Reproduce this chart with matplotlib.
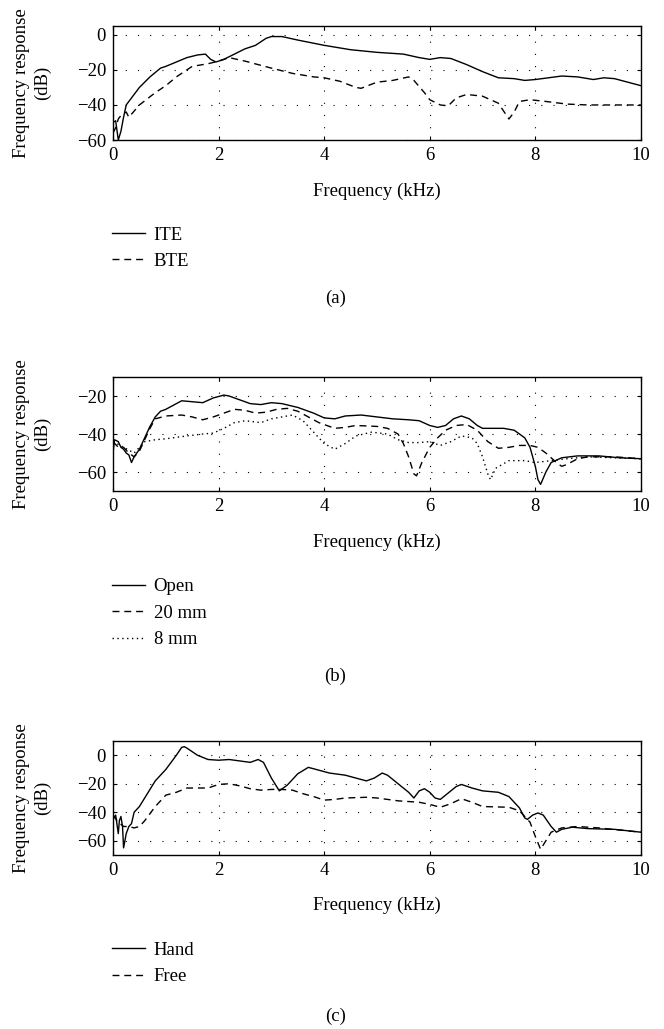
import matplotlib.pyplot as plt

plt.rcParams['font.family'] = ['Liberation Serif', 'DejaVu Serif']
plt.rcParams['font.size'] = 13.5
plt.rcParams['axes.unicode_minus'] = True

# (a) ITE / BTE
ite_f = [0.0, 0.05, 0.1, 0.15, 0.2, 0.25, 0.3, 0.5, 0.7, 0.9, 1.0, 1.2, 1.4, 1.6, 1.75, 1.85,
         1.95, 2.1, 2.3, 2.5, 2.7, 2.9, 3.0, 3.2, 3.5, 4.0, 4.5, 5.0, 5.5, 5.8, 6.0, 6.2,
         6.4, 6.7, 7.0, 7.3, 7.6, 7.8, 8.0, 8.5, 8.8, 9.0, 9.1, 9.3, 9.5, 10.0]
ite_db = [-50, -49, -60, -55, -47, -40, -38, -30, -24, -19, -18, -15.5, -13, -11.5, -11, -14,
          -15.5, -14, -11, -8, -6, -2, -1, -1, -3, -6, -8.5, -10, -11, -13, -14, -13,
          -13.5, -17, -21, -24.5, -25, -26, -25.5, -23.5, -24, -25, -25.5, -24.5, -25, -29]
bte_f = [0.0, 0.05, 0.1, 0.15, 0.25, 0.3, 0.5, 0.8, 1.0, 1.2, 1.5, 1.8, 2.0, 2.2, 2.5, 3.0,
         3.4, 3.8, 4.0, 4.3, 4.6, 4.7, 5.0, 5.3, 5.6, 5.7, 5.9, 6.0, 6.2, 6.35, 6.5, 6.7,
         7.0, 7.3, 7.5, 7.6, 7.7, 7.9, 8.2, 8.6, 9.0, 10.0]
bte_db = [-56, -53, -48, -46, -44, -47, -40, -33, -29, -24, -18, -16.5, -15, -13, -15, -19,
          -22, -24, -24.5, -26.5, -30, -30.5, -27, -26, -24, -26, -33, -37, -40, -40.5, -36, -34,
          -35, -39, -48, -44, -38, -37, -38, -39.5, -40, -40]

# (b) Open / 20 mm / 8 mm
open_f = [0.0, 0.03, 0.1, 0.15, 0.2, 0.25, 0.3, 0.35, 0.4, 0.5, 0.6, 0.7, 0.8, 0.9, 1.0, 1.2,
          1.3, 1.5, 1.7, 1.9, 2.1, 2.2, 2.4, 2.6, 2.8, 3.0, 3.2, 3.5, 3.8, 4.0, 4.2, 4.4,
          4.7, 5.0, 5.3, 5.6, 5.8, 6.0, 6.15, 6.3, 6.45, 6.6, 6.75, 6.9, 7.0, 7.2, 7.4, 7.6,
          7.8, 7.9, 8.0, 8.05, 8.1, 8.2, 8.3, 8.5, 8.8, 9.2, 9.6, 10.0]
open_db = [-50, -43, -44, -47, -48, -50, -51, -55, -52, -48, -42, -36, -31, -28, -27, -24,
           -22.5, -23, -23.5, -21, -19.5, -20, -22, -24, -24.5, -23.5, -24, -26, -29, -31.5, -32, -30.5,
           -30, -31, -32, -32.5, -33, -35.5, -36.5, -35.5, -32, -30.5, -32, -35.5, -37, -37, -37, -38,
           -42, -47, -57, -64, -66.5, -60, -55, -52.5, -51.5, -51.5, -52.5, -53]
mm20_f = [0.0, 0.1, 0.2, 0.3, 0.4, 0.5, 0.6, 0.7, 0.8, 1.0, 1.3, 1.5, 1.7, 1.9, 2.1, 2.3,
          2.5, 2.7, 2.9, 3.1, 3.3, 3.5, 3.7, 3.9, 4.2, 4.4, 4.6, 5.0, 5.2, 5.4, 5.5, 5.6,
          5.7, 5.75, 5.85, 6.0, 6.15, 6.3, 6.5, 6.7, 6.9, 7.1, 7.3, 7.5, 7.7, 7.9, 8.05, 8.2,
          8.4, 8.5, 8.6, 8.8, 9.0, 9.5, 10.0]
mm20_db = [-44, -47, -47, -50, -52, -49, -43, -37, -32, -30.5, -30, -31, -32.5, -31, -29, -27,
           -27.5, -29, -28.5, -27, -26.5, -28, -31, -34, -37, -36.5, -35.5, -36, -37, -40, -45, -52,
           -61, -62, -55, -47, -42, -38, -35.5, -35, -38, -44, -47.5, -47, -46, -46, -47, -50,
           -55, -57, -56, -53, -52, -52, -53]
mm8_f = [0.0, 0.2, 0.4, 0.5, 0.6, 0.8, 1.0, 1.4, 1.7, 1.9, 2.1, 2.3, 2.5, 2.8, 3.0, 3.2,
         3.4, 3.6, 3.8, 4.0, 4.2, 4.4, 4.6, 4.9, 5.2, 5.4, 5.6, 5.8, 6.0, 6.2, 6.4, 6.6,
         6.8, 6.9, 7.0, 7.1, 7.15, 7.25, 7.5, 7.8, 8.0, 8.3, 8.6, 9.0, 9.5, 10.0]
mm8_db = [-44, -47, -50, -47, -44, -43, -42.5, -41, -40, -39.5, -37, -34, -33, -34, -32, -31,
          -30, -33, -39, -45, -48, -45, -41, -39, -40, -43, -44.5, -44.5, -44, -46, -44, -41,
          -42, -45, -52, -61, -64, -58, -54, -54, -55, -54, -53, -52, -52.5, -53]

# (c) Hand / Free
hand_f = [0.0, 0.05, 0.1, 0.12, 0.15, 0.18, 0.2, 0.25, 0.3, 0.35, 0.4, 0.5, 0.6, 0.7, 0.8, 1.0,
          1.1, 1.2, 1.3, 1.35, 1.4, 1.6, 1.8, 2.0, 2.2, 2.4, 2.6, 2.75, 2.85, 3.0, 3.15, 3.3,
          3.5, 3.7, 3.9, 4.1, 4.4, 4.6, 4.8, 4.95, 5.1, 5.2, 5.4, 5.6, 5.7, 5.8, 5.9, 6.0,
          6.1, 6.2, 6.3, 6.5, 6.6, 6.8, 7.0, 7.3, 7.5, 7.7, 7.8, 7.85, 7.95, 8.05, 8.15, 8.3,
          8.4, 8.5, 8.7, 9.0, 9.5, 10.0]
hand_db = [-45, -42, -55, -46, -43, -50, -65, -55, -50, -48, -40, -36, -30, -24, -18, -10,
           -5, 0, 5.5, 6, 5, 0, -3, -3.5, -3, -4, -5, -3, -5, -16, -25, -21,
           -13, -8.5, -10.5, -12.5, -14, -16, -18, -16, -12.5, -14, -20, -26, -30, -25, -23.5, -26,
           -30, -31, -28, -22, -20.5, -23, -25, -26, -29, -37, -44, -45, -42, -40.5, -42, -50,
           -54, -52, -50.5, -51.5, -52, -54]
free_f = [0.0, 0.1, 0.2, 0.3, 0.4, 0.5, 0.6, 0.8, 1.0, 1.2, 1.4, 1.6, 1.8, 2.0, 2.2, 2.4,
          2.6, 2.8, 3.0, 3.2, 3.4, 3.6, 3.8, 4.0, 4.2, 4.4, 4.8, 5.0, 5.4, 5.8, 6.0, 6.2,
          6.4, 6.6, 6.8, 7.0, 7.5, 7.7, 7.9, 8.0, 8.1, 8.2, 8.3, 8.5, 8.8, 9.2, 10.0]
free_db = [-42, -47, -50, -50, -51, -50, -46, -36, -28, -26, -23, -23, -23, -20.5, -20, -21.5,
           -23.5, -24.5, -24, -24, -24.5, -27, -29, -31.5, -31, -30, -29.5, -30, -32, -33, -34.5, -36.5,
           -34, -30.5, -33, -36, -36.5, -39, -47, -57, -66, -60, -54, -51, -50, -51, -54]

x_ticks = [0, 2, 4, 6, 8, 10]
dashed = (0, (5, 3.5))
dotted = (0, (1, 2.5))

fig = plt.figure(figsize=(6.64, 10.29), dpi=100)

panels = [
    # axes rect, ylim, yticks, series, legend top, tag y
    ([0.1702, 0.8639, 0.795, 0.1108], (-60, 5), [0, -20, -40, -60],
     [(ite_f, ite_db, '-', 'ITE'), (bte_f, bte_db, dashed, 'BTE')], 0.780, 0.710, '(a)'),
    ([0.1702, 0.5228, 0.795, 0.1108], (-70, -10), [-20, -40, -60],
     [(open_f, open_db, '-', 'Open'), (mm20_f, mm20_db, dashed, '20 mm'),
      (mm8_f, mm8_db, dotted, '8 mm')], 0.438, 0.343, '(b)'),
    ([0.1702, 0.1691, 0.795, 0.1108], (-70, 10), [0, -20, -40, -60],
     [(hand_f, hand_db, '-', 'Hand'), (free_f, free_db, dashed, 'Free')], 0.085, 0.012, '(c)'),
]

for rect, ylim, yticks, series, leg_top, tag_y, tag in panels:
    ax = fig.add_axes(rect)
    for f, db, ls, lab in series:
        ax.plot(f, db, color='black', linestyle=ls, linewidth=1.0, label=lab)
    ax.set_xlim(0, 10)
    ax.set_ylim(*ylim)
    ax.set_xticks(x_ticks)
    ax.set_yticks(yticks)
    ax.grid(True, color='black', linestyle=(0, (1, 10)), linewidth=0.8)
    ax.tick_params(direction='in', top=True, right=True, length=3, width=0.8, pad=5)
    for sp in ax.spines.values():
        sp.set_linewidth(1.0)
    ax.set_xlabel('Frequency (kHz)')
    ax.xaxis.set_label_coords(0.5, -0.37)
    ax.set_ylabel('Frequency response\n(dB)', linespacing=1.25)
    ax.yaxis.set_label_coords(-0.118, 0.5)
    ax.legend(loc='upper left', bbox_to_anchor=(0.168, leg_top), bbox_transform=fig.transFigure,
              frameon=False, handlelength=1.8, handletextpad=0.45, labelspacing=0.5,
              borderpad=0, borderaxespad=0)
    fig.text(0.505, tag_y, tag, ha='center', va='center')

plt.savefig('out.png', dpi=100)
